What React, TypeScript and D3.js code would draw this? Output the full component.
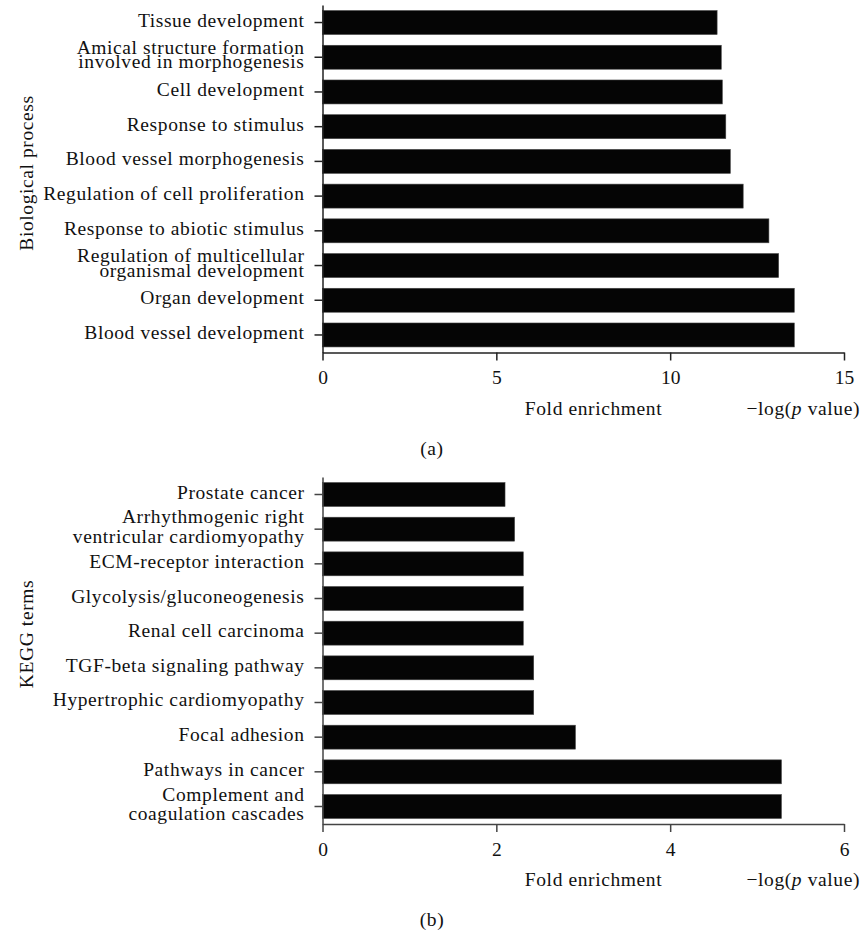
import React, { useEffect, useRef } from 'react';
import * as d3 from 'd3';

// Panel (a): GO biological process terms, top to bottom; "|" breaks a label onto two lines
const bpTerms = [
  'Tissue development',
  'Amical structure formation|involved in morphogenesis',
  'Cell development',
  'Response to stimulus',
  'Blood vessel morphogenesis',
  'Regulation of cell proliferation',
  'Response to abiotic stimulus',
  'Regulation of multicellular|organismal development',
  'Organ development',
  'Blood vessel development',
];
const bpValues = [11.35, 11.47, 11.5, 11.6, 11.73, 12.1, 12.84, 13.12, 13.57, 13.57];
const bpTicks = [0, 5, 10, 15];

// Panel (b): KEGG pathways
const keggTerms = [
  'Prostate cancer',
  'Arrhythmogenic right|ventricular cardiomyopathy',
  'ECM-receptor interaction',
  'Glycolysis/gluconeogenesis',
  'Renal cell carcinoma',
  'TGF-beta signaling pathway',
  'Hypertrophic cardiomyopathy',
  'Focal adhesion',
  'Pathways in cancer',
  'Complement and|coagulation cascades',
];
const keggValues = [2.1, 2.21, 2.31, 2.31, 2.31, 2.43, 2.43, 2.91, 5.28, 5.28];
const keggTicks = [0, 2, 4, 6];

const FONT = "'Liberation Serif', 'Times New Roman', serif";
const FS = 19.5;
const LS = '0.6px';

interface PanelSpec {
  terms: string[];
  values: number[];
  ticks: number[];
  top: number;
  bottom: number;
  yTitle: string;
  yTitleY: number;
  lineGap: number;
  tag: string;
  axisColor: string;
}

const drawPanel = (svg: d3.Selection<SVGSVGElement, unknown, null, undefined>, p: PanelSpec) => {
  const x0 = 322.5;
  const x1 = 844;
  const x = d3.scaleLinear().domain([0, p.ticks[p.ticks.length - 1]]).range([x0, x1]);
  const y = d3.scaleBand<string>().domain(p.terms).range([p.top, p.bottom])
    .paddingInner(0.31).paddingOuter(0.16);

  const g = svg.append('g')
    .attr('font-family', FONT);

  // bars
  g.selectAll('rect.bar')
    .data(p.terms)
    .enter().append('rect')
    .attr('class', 'bar')
    .attr('x', x(0))
    .attr('y', d => y(d)!)
    .attr('width', (d, i) => x(p.values[i]) - x(0))
    .attr('height', y.bandwidth())
    .attr('fill', '#050505')
    .attr('stroke', '#444')
    .attr('stroke-width', 0.6);

  // y axis
  const yAxis = g.append('g')
    .attr('transform', `translate(${x0},0)`)
    .call(d3.axisLeft(y).tickSize(8).tickSizeOuter(0).tickPadding(10));
  yAxis.select('.domain').attr('stroke', p.axisColor).attr('stroke-width', 1.5);
  yAxis.selectAll('.tick line').attr('stroke', p.axisColor).attr('stroke-width', 1.5);
  yAxis.selectAll('.tick text').remove();
  yAxis.selectAll<SVGGElement, string>('.tick').each(function (d) {
    const lines = d.split('|');
    const t = d3.select(this).append('text')
      .attr('x', -18)
      .attr('text-anchor', 'end')
      .attr('fill', '#111')
      .style('font-family', FONT)
      .style('font-size', `${FS}px`)
      .style('letter-spacing', LS);
    lines.forEach((line, i) => {
      t.append('tspan')
        .attr('x', -18)
        .attr('y', 4 + (i - (lines.length - 1) / 2) * p.lineGap)
        .text(line);
    });
  });

  // x axis
  const xAxis = g.append('g')
    .attr('transform', `translate(0,${p.bottom})`)
    .call(d3.axisBottom(x).tickValues(p.ticks).tickFormat(d3.format('d')).tickSize(8).tickSizeOuter(0).tickPadding(10));
  xAxis.attr('font-family', FONT);
  xAxis.select('.domain').attr('stroke', p.axisColor).attr('stroke-width', 1.5);
  xAxis.selectAll('.tick line').attr('stroke', p.axisColor).attr('stroke-width', 1.5);
  xAxis.selectAll('.tick text')
    .attr('fill', '#111')
    .style('font-family', FONT)
    .style('font-size', `${FS}px`);

  const txt = (sel: d3.Selection<SVGTextElement, unknown, null, undefined>) =>
    sel.attr('fill', '#111')
      .style('font-family', FONT)
      .style('font-size', `${FS}px`)
      .style('letter-spacing', LS);

  g.append('text')
    .attr('x', 593.5)
    .attr('y', p.bottom + 62)
    .attr('text-anchor', 'middle')
    .call(txt)
    .text('Fold enrichment');

  const logLbl = g.append('text')
    .attr('x', 860)
    .attr('y', p.bottom + 62)
    .attr('text-anchor', 'end')
    .call(txt);
  logLbl.append('tspan').text('\u2212log(');
  logLbl.append('tspan').style('font-style', 'italic').text('p');
  logLbl.append('tspan').text(' value)');

  // y title
  g.append('text')
    .attr('transform', `translate(33,${p.yTitleY}) rotate(-90)`)
    .attr('text-anchor', 'middle')
    .call(txt)
    .text(p.yTitle);

  // panel tag
  g.append('text')
    .attr('x', 432)
    .attr('y', p.bottom + 102)
    .attr('text-anchor', 'middle')
    .call(txt)
    .text(p.tag);
};

const App: React.FC = () => {
  const svgRef = useRef<SVGSVGElement>(null);

  useEffect(() => {
    if (!svgRef.current) return;
    const svg = d3.select(svgRef.current);
    svg.selectAll('*').remove();

    svg.append('rect').attr('width', 865).attr('height', 934).attr('fill', '#fff');

    drawPanel(svg, {
      terms: bpTerms,
      values: bpValues,
      ticks: bpTicks,
      top: 5,
      bottom: 352.5,
      yTitle: 'Biological process',
      yTitleY: 173,
      lineGap: 14.5,
      tag: '(a)',
      axisColor: '#222',
    });

    drawPanel(svg, {
      terms: keggTerms,
      values: keggValues,
      ticks: keggTicks,
      top: 477,
      bottom: 824,
      yTitle: 'KEGG terms',
      yTitleY: 634,
      lineGap: 19.5,
      tag: '(b)',
      axisColor: '#444',
    });
  }, []);

  return (
    <svg
      ref={svgRef}
      width={865}
      height={934}
      style={{ position: 'absolute', left: 0, top: 0 }}
    />
  );
};

export default App;
